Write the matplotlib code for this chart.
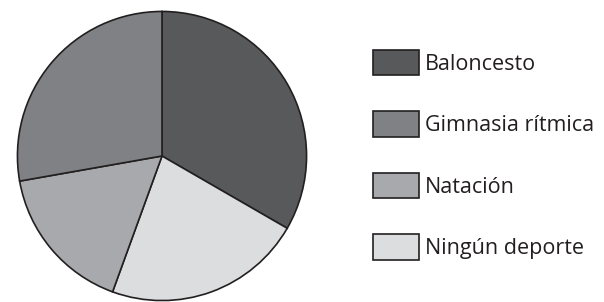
import matplotlib
matplotlib.use("Agg")
import matplotlib.pyplot as plt

# sectors in drawing order (clockwise from 12 o'clock)
deportes = ["Baloncesto", "Ningún deporte", "Natación", "Gimnasia rítmica"]
valores = [12, 8, 6, 10]
colores = ["#58595b", "#dcddde", "#a7a9ac", "#808184"]
orden_leyenda = ["Baloncesto", "Gimnasia rítmica", "Natación", "Ningún deporte"]

W, H = 604, 302
fig = plt.figure(figsize=(W / 100, H / 100), dpi=100)
plt.rcParams['font.family'] = ['Open Sans', 'DejaVu Sans']

cx, cy, r = 162, 156, 146
ax = fig.add_axes([(cx - r) / W, (H - cy - r) / H, 2 * r / W, 2 * r / H])
wedges, _ = ax.pie(valores, colors=colores, startangle=90, counterclock=False,
                   wedgeprops=dict(edgecolor="#231f20", linewidth=1.2))
ax.set_xlim(-1.01, 1.01)
ax.set_ylim(-1.01, 1.01)
ax.set_aspect("equal")
ax.axis("off")

fs = 15.5
fpx = fs * 100 / 72
handles = [wedges[deportes.index(n)] for n in orden_leyenda]
leg = fig.legend(handles, orden_leyenda, loc="upper left",
                 bbox_to_anchor=(373 / W, 1 - 50 / H), frameon=False,
                 fontsize=fs, handlelength=46 / fpx, handleheight=31 / fpx,
                 handletextpad=6 / fpx, labelspacing=36 / fpx,
                 borderpad=0, borderaxespad=0)
for t in leg.get_texts():
    t.set_color("#231f20")

fig.savefig("out.png", dpi=100)
